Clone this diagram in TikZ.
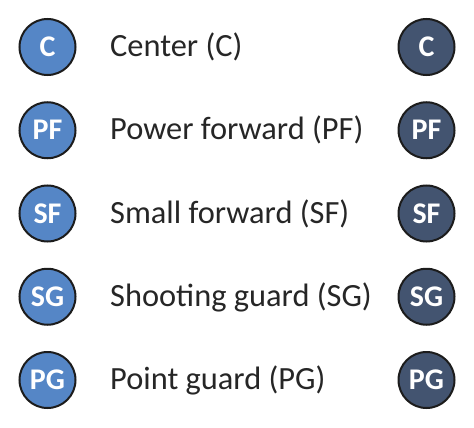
\documentclass[tikz,border=0pt]{standalone}
\usepackage{fontspec}
\setmainfont{Carlito}
\definecolor{lightpos}{HTML}{5586C6}
\definecolor{darkpos}{HTML}{435470}
\definecolor{rimcol}{HTML}{1C1C1C}
\definecolor{textcol}{HTML}{262626}
\tikzset{
  position/.style={circle,draw=rimcol,line width=2pt,minimum size=56pt,inner sep=0pt,
    text=white,font=\fontsize{30}{30}\selectfont\bfseries},
  lightdisc/.style={position,fill=lightpos},
  darkdisc/.style={position,fill=darkpos},
  caption/.style={anchor=base west,inner sep=0pt,text=textcol,font=\fontsize{32.4}{32.4}\selectfont}
}
\begin{document}
\begin{tikzpicture}[x=1pt,y=1pt]
  % Frame of the picture
  \useasboundingbox (0,0) rectangle (474,-428);

  \def\xl{47.5} \def\xt{110} \def\xr{426.5}
  \def\rowgap{83.25}

  % One row per playing position
  \foreach \abbr/\name [count=\i from 0] in {C/Center, PF/Power forward, SF/Small forward, SG/Shooting guard, PG/Point guard}{
    \node[lightdisc] (light\abbr) at (\xl,{-47-\i*\rowgap}) {\abbr};
    \node[caption] (label\abbr) at (\xt,{-56.5-\i*\rowgap}) {\name{} (\abbr)};
    \node[darkdisc] (dark\abbr) at (\xr,{-47-\i*\rowgap}) {\abbr};
  }
\end{tikzpicture}
\end{document}
